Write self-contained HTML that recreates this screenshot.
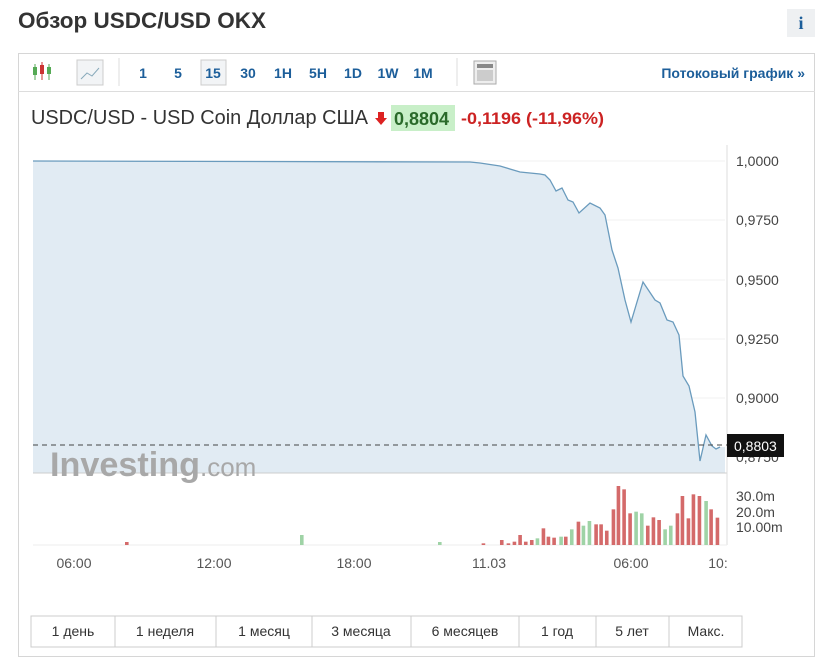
<!DOCTYPE html>
<html><head><meta charset="utf-8"><style>
body{margin:0;background:#fff;font-family:"Liberation Sans",sans-serif;width:832px;height:660px;position:relative;overflow:hidden}
.a{position:absolute}
</style></head><body>
<div class="a" style="left:18px;top:8px;font-size:22.5px;font-weight:bold;color:#333">Обзор USDC/USD OKX</div>
<div class="a" style="left:787px;top:9px;width:28px;height:28px;background:#eef0f2;color:#1c5e9a;font:bold 18px 'Liberation Serif',serif;text-align:center;line-height:28px">i</div>
<div class="a" style="left:18px;top:53px;width:797px;height:604px;border:1px solid #d6d6d6;box-sizing:border-box"></div>
<div class="a" style="left:18px;top:91px;width:797px;height:1px;background:#ddd"></div>
<svg class="a" style="left:0;top:0" width="832" height="660">
<g stroke="#c33" fill="none"><line x1="35" y1="64" x2="35" y2="80" stroke="#5a5"/><rect x="33" y="67" width="4" height="8" fill="#5a5" stroke="none"/><line x1="42" y1="62" x2="42" y2="80"/><rect x="40" y="65" width="4" height="9" fill="#c33" stroke="none"/><line x1="49" y1="64" x2="49" y2="80" stroke="#5a5"/><rect x="47" y="67" width="4" height="7" fill="#5a5" stroke="none"/></g>
<rect x="77" y="60" width="26" height="25" fill="#f2f4f6" stroke="#ccc"/><polyline points="81,79 87,73 92,76 99,68" stroke="#8ab" fill="none"/>
<line x1="119" y1="58" x2="119" y2="86" stroke="#ddd"/>
<rect x="201" y="60" width="25" height="25" fill="#f2f4f6" stroke="#ccc"/>
<g font-size="14" font-weight="bold" fill="#1c5e9a" text-anchor="middle"><text x="143" y="78">1</text><text x="178" y="78">5</text><text x="213" y="78">15</text><text x="248" y="78">30</text><text x="283" y="78">1H</text><text x="318" y="78">5H</text><text x="353" y="78">1D</text><text x="388" y="78">1W</text><text x="423" y="78">1M</text></g>
<line x1="457" y1="58" x2="457" y2="86" stroke="#ddd"/>
<rect x="474" y="61" width="22" height="23" fill="#eee" stroke="#aaa"/><rect x="477" y="64" width="16" height="4" fill="#888"/><rect x="477" y="70" width="16" height="11" fill="#ccc"/>
<text x="805" y="78" font-size="14" font-weight="bold" fill="#1c5e9a" text-anchor="end">Потоковый график »</text>
<text x="31" y="124" font-size="20" fill="#333" textLength="337" lengthAdjust="spacingAndGlyphs">USDC/USD - USD Coin Доллар США</text>
<path d="M378,112h6v6h3l-6,7l-6,-7h3z" fill="#d22"/>
<rect x="391" y="105" width="64" height="26" fill="#c8efc8"/>
<text x="394" y="125" font-size="18" font-weight="bold" fill="#2a6a2a">0,8804</text>
<text x="461" y="124" font-size="17" font-weight="bold" fill="#c22" textLength="143" lengthAdjust="spacingAndGlyphs">-0,1196 (-11,96%)</text>
<g stroke="#f2f2f2"><line x1="33" y1="161" x2="725" y2="161"/><line x1="33" y1="220" x2="725" y2="220"/><line x1="33" y1="280" x2="725" y2="280"/><line x1="33" y1="339" x2="725" y2="339"/><line x1="33" y1="398" x2="725" y2="398"/></g>
<path d="M33,161 L470,162 480,163 500,166 520,172 540,174 545,175 550,180 556,191 562,188 568,200 573,202 579,213 590,203 600,208 605,215 612,250 618,268 625,300 631,322 643,282 655,300 660,303 667,320 673,322 679,335 683,376 689,386 695,412 700,461 706,435 712,446 716,449 720,447 L725,447 725,473 33,473Z" fill="#e1ebf3"/>
<polyline points="33,161 470,162 480,163 500,166 520,172 540,174 545,175 550,180 556,191 562,188 568,200 573,202 579,213 590,203 600,208 605,215 612,250 618,268 625,300 631,322 643,282 655,300 660,303 667,320 673,322 679,335 683,376 689,386 695,412 700,461 706,435 712,446 716,449 720,447" fill="none" stroke="#6a9bbd" stroke-width="1.3"/>
<line x1="33" y1="473" x2="727" y2="473" stroke="#ccc"/>
<line x1="727" y1="145" x2="727" y2="545" stroke="#ddd"/>
<line x1="33" y1="545" x2="727" y2="545" stroke="#eee"/>
<line x1="33" y1="445" x2="727" y2="445" stroke="#444" stroke-dasharray="5,4"/>
<text x="50" y="476" font-size="34" font-weight="bold" fill="#a8a8a8" textLength="150" lengthAdjust="spacingAndGlyphs">Investing</text><text x="200" y="476" font-size="26" fill="#a8a8a8">.com</text>
<g font-size="14" fill="#444"><text x="736" y="166">1,0000</text><text x="736" y="225">0,9750</text><text x="736" y="285">0,9500</text><text x="736" y="344">0,9250</text><text x="736" y="403">0,9000</text><text x="736" y="462">0,8750</text>
<text x="736" y="501">30.0m</text><text x="736" y="517">20.0m</text><text x="736" y="532">10.00m</text></g>
<rect x="727" y="434" width="57" height="23" fill="#111"/><text x="734" y="451" font-size="14" fill="#fff">0,8803</text>
<g id="v"></g>
<g font-size="14" fill="#555" text-anchor="middle"><text x="74" y="568">06:00</text><text x="214" y="568">12:00</text><text x="354" y="568">18:00</text><text x="489" y="568">11.03</text><text x="631" y="568">06:00</text><text x="718" y="568">10:</text></g>
<rect x="31" y="616" width="711" height="31" fill="#fff" stroke="#ccc"/>
<g stroke="#ccc"><line x1="115" y1="616" x2="115" y2="647"/><line x1="216" y1="616" x2="216" y2="647"/><line x1="312" y1="616" x2="312" y2="647"/><line x1="411" y1="616" x2="411" y2="647"/><line x1="519" y1="616" x2="519" y2="647"/><line x1="596" y1="616" x2="596" y2="647"/><line x1="669" y1="616" x2="669" y2="647"/></g>
<g font-size="14" fill="#333" text-anchor="middle"><text x="73" y="636">1 день</text><text x="165" y="636">1 неделя</text><text x="264" y="636">1 месяц</text><text x="361" y="636">3 месяца</text><text x="465" y="636">6 месяцев</text><text x="557" y="636">1 год</text><text x="632" y="636">5 лет</text><text x="706" y="636">Макс.</text></g>
</svg>
<script>
var d=[[10,1210,0],[65,1200,0],[85,1210,0],[103,1205,0],[120,1185,0],[137,1205,0],[155,1200,0],[172,1195,1],[190,1165,0],[205,1190,0],[222,1193,0],[243,1190,1],[257,1190,0],[275,1168,1],[295,1145,0],[310,1157,1],[328,1143,1],[348,1153,0],[363,1153,0],[380,1172,0],[400,1108,0],[415,1038,0],[432,1048,0],[450,1120,0],[468,1115,1],[485,1120,1],[503,1157,0],[520,1132,0],[537,1140,0],[555,1168,1],[572,1157,1],[592,1120,0],[607,1068,0],[625,1135,0],[640,1063,0],[658,1068,0],[678,1083,1],[693,1108,0],[712,1133,0]];
var s='';d.forEach(function(b){var x=480+b[0]/3-1.7,y=140+b[1]/3;s+='<rect x="'+x+'" y="'+y+'" width="3.6" height="'+(545-y)+'" fill="'+(b[2]?'#9fd3a6':'#d46a6a')+'"/>';});
[[125,542,0],[300,535,1],[438,542,1]].forEach(function(b){s+='<rect x="'+b[0]+'" y="'+b[1]+'" width="3.6" height="'+(545-b[1])+'" fill="'+(b[2]?'#9fd3a6':'#d46a6a')+'"/>';});
document.getElementById('v').innerHTML=s;
</script>
</body></html>
